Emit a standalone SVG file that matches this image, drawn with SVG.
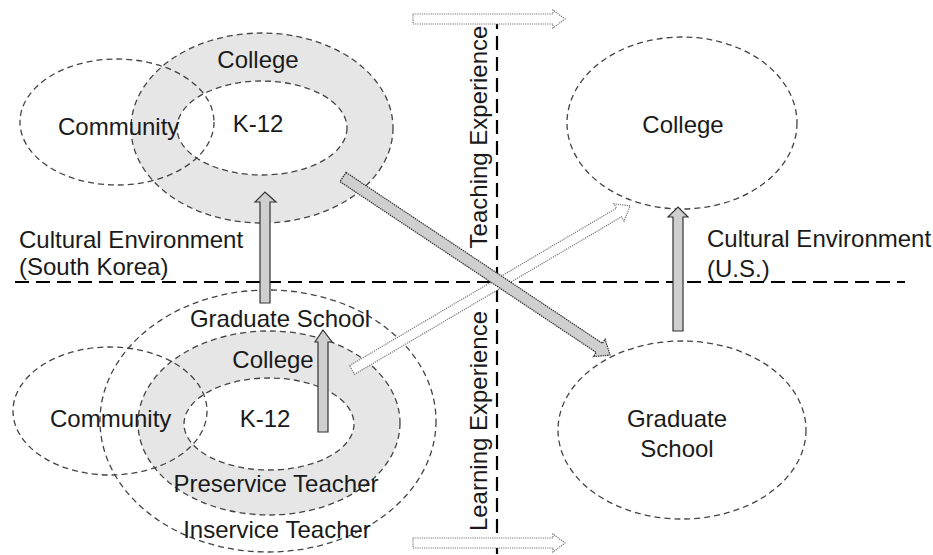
<svg xmlns="http://www.w3.org/2000/svg" width="933" height="555" viewBox="0 0 933 555">
<style>
text{font-family:"Liberation Sans",Arial,sans-serif;font-size:24px;fill:#1a1a1a}
.m{text-anchor:middle}
.de{fill:none;stroke:#444;stroke-width:1.3;stroke-dasharray:6 4}
.ring{fill:#e6e6e6;stroke:#444;stroke-width:1.3;stroke-dasharray:6 4}
.hole{fill:#fff;stroke:#444;stroke-width:1.3;stroke-dasharray:6 4}
.axis{fill:none;stroke:#000;stroke-width:2.2;stroke-dasharray:14 7}
.hol{fill:#fff;stroke:#777;stroke-width:1.2;stroke-dasharray:1.2 1}
.gry{fill:#cfcfcf;stroke:#333;stroke-width:1.2}
.gryd{fill:#cfcfcf;stroke:#333;stroke-width:1.2;stroke-dasharray:1.5 0.8}
</style>
<rect width="933" height="555" fill="#fff"/>
<g id="axes">
<line class="axis" x1="15" y1="282" x2="905" y2="282"/>
<line class="axis" x1="497" y1="15" x2="497" y2="555"/>
</g>
<g id="kr-top">
<ellipse class="ring" cx="262" cy="128" rx="131" ry="95"/>
<ellipse class="hole" cx="262" cy="128" rx="85" ry="47"/>
<ellipse class="de" cx="117" cy="122" rx="97" ry="63"/>
<text class="m" x="258" y="68">College</text>
<text class="m" x="258" y="132">K-12</text>
<text x="58" y="135">Community</text>
</g>
<g id="kr-bottom">
<ellipse class="de" cx="268" cy="421" rx="168" ry="131"/>
<ellipse class="ring" cx="269" cy="423" rx="131" ry="92"/>
<ellipse class="hole" cx="269" cy="424" rx="85" ry="46"/>
<ellipse class="de" cx="110" cy="411" rx="97" ry="64"/>
<text class="m" x="280" y="327">Graduate School</text>
<text class="m" x="273" y="368">College</text>
<text x="50" y="427">Community</text>
<text class="m" x="265" y="427">K-12</text>
<text class="m" x="276" y="492">Preservice Teacher</text>
<text class="m" x="277" y="538">Inservice Teacher</text>
</g>
<g id="us-college">
<ellipse class="de" cx="682" cy="123" rx="115" ry="86"/>
<text class="m" x="683" y="133">College</text>
</g>
<g id="us-grad">
<ellipse class="de" cx="682" cy="430" rx="124" ry="89"/>
<text class="m" x="677" y="427">Graduate</text>
<text class="m" x="677" y="457">School</text>
</g>
<g id="labels">
<text x="19" y="248">Cultural Environment</text>
<text x="19" y="275">(South Korea)</text>
<text x="707" y="247">Cultural Environment</text>
<text x="707" y="277">(U.S.)</text>
<text class="m" transform="translate(487,137) rotate(-90)">Teaching Experience</text>
<text class="m" transform="translate(487,421) rotate(-90)">Learning Experience</text>
</g>
<g id="connectors">
<polygon class="hol" points="413,14 553,14 553,10 565,19 553,28 553,24 413,24"/>
<polygon class="hol" points="413,538 553,538 553,534 565,543 553,552 553,548 413,548"/>
<polygon class="hol" transform="translate(352,370) rotate(-30.54)" points="0,-5 310,-5 310,-10 323,0 310,10 310,5 0,5"/>
<polygon class="gryd" transform="translate(343,177) rotate(33.69)" points="0,-5.5 308,-5.5 308,-10.5 321,0 308,10.5 308,5.5 0,5.5"/>
<polygon class="gry" points="260,303 260,202 255,202 265,192 276,202 270,202 270,303"/>
<polygon class="gry" points="318,432 318,342 315,342 323,330 332,342 328,342 328,432"/>
<polygon class="gry" points="673,331 673,217 668,217 678,207 688,217 683,217 683,331"/>
</g>
</svg>
